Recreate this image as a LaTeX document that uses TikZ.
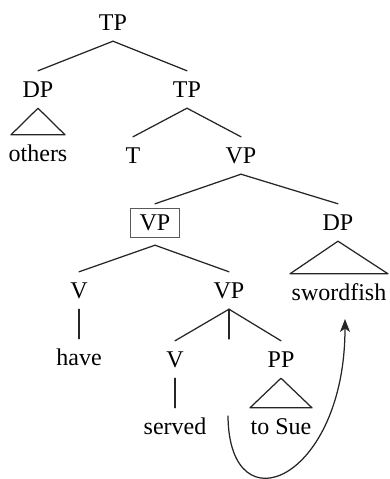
\documentclass[tikz,border=0pt]{standalone}
\usepackage{fontspec}
\setmainfont{Liberation Serif}
\usetikzlibrary{arrows.meta,calc}
\begin{document}
\begin{tikzpicture}[x=1pt,y=-1pt,
  lab/.style={anchor=base,inner xsep=0pt,inner ysep=11pt,text height=15pt,text depth=0pt,font=\fontsize{24}{28}\selectfont},
  edge/.style={line width=1.25pt,line cap=round,line join=round,draw=black!85},
  boxline/.style={draw=black!65,line width=1pt}]
\useasboundingbox (0,0) rectangle (390,479);
\node[lab] (tp0) at (113,30) {TP};
\node[lab] (dp1) at (38,97) {DP};
\node[lab] (tp1) at (187,97) {TP};
\node[lab] (oth) at (38,161) {others};
\node[lab] (t) at (133,163) {T};
\node[lab] (vp2) at (241,163) {VP};
\node[lab] (vpb) at (155,230) {VP};
\node[lab] (dps) at (338,230) {DP};
\node[lab] (v1) at (79,298) {V};
\node[lab] (vp3) at (229,298) {VP};
\node[lab] (swf) at (339,300) {swordfish};
\node[lab] (have) at (79,365) {have};
\node[lab] (v2) at (175,367) {V};
\node[lab] (pp) at (281,367) {PP};
\node[lab] (srv) at (175,434) {served};
\node[lab] (sue) at (281,434) {to Sue};
\coordinate (mid) at (229,339);
\coordinate (trc) at (228,416);
\coordinate (tgt) at (345,319);
\draw[boxline] ($(vpb.base west)+(-9,7)$) rectangle ($(vpb.base east)+(9,-22)$);
\draw[edge] (tp0.south) -- (dp1.north);
\draw[edge] (tp0.south) -- (tp1.north);
\draw[edge] (dp1.south) -- ($(oth.north)+(-27,0)$) -- ($(oth.north)+(27,0)$) -- cycle;
\draw[edge] (tp1.south) -- (t.north);
\draw[edge] (tp1.south) -- (vp2.north);
\draw[edge] (vp2.south) -- (vpb.north);
\draw[edge] (vp2.south) -- (dps.north);
\draw[edge] (dps.south) -- ($(swf.north)+(-49,0)$) -- ($(swf.north)+(49,0)$) -- cycle;
\draw[edge] ($(vpb.south)+(0,4)$) -- (v1.north);
\draw[edge] ($(vpb.south)+(0,4)$) -- (vp3.north);
\draw[edge] (v1.south) -- (have.north);
\draw[edge] (vp3.south) -- (v2.north);
\draw[edge] (vp3.south) -- (mid);
\draw[edge] (vp3.south) -- (pp.north);
\draw[edge] (v2.south) -- (srv.north);
\draw[edge] (pp.south) -- ($(sue.north)+(-31,0)$) -- ($(sue.north)+(31,0)$) -- cycle;
\draw[edge,-{Stealth[length=13pt,width=10pt,inset=3.5pt]}] (trc) .. controls (229,530) and (345,480) .. (tgt);
\end{tikzpicture}
\end{document}
